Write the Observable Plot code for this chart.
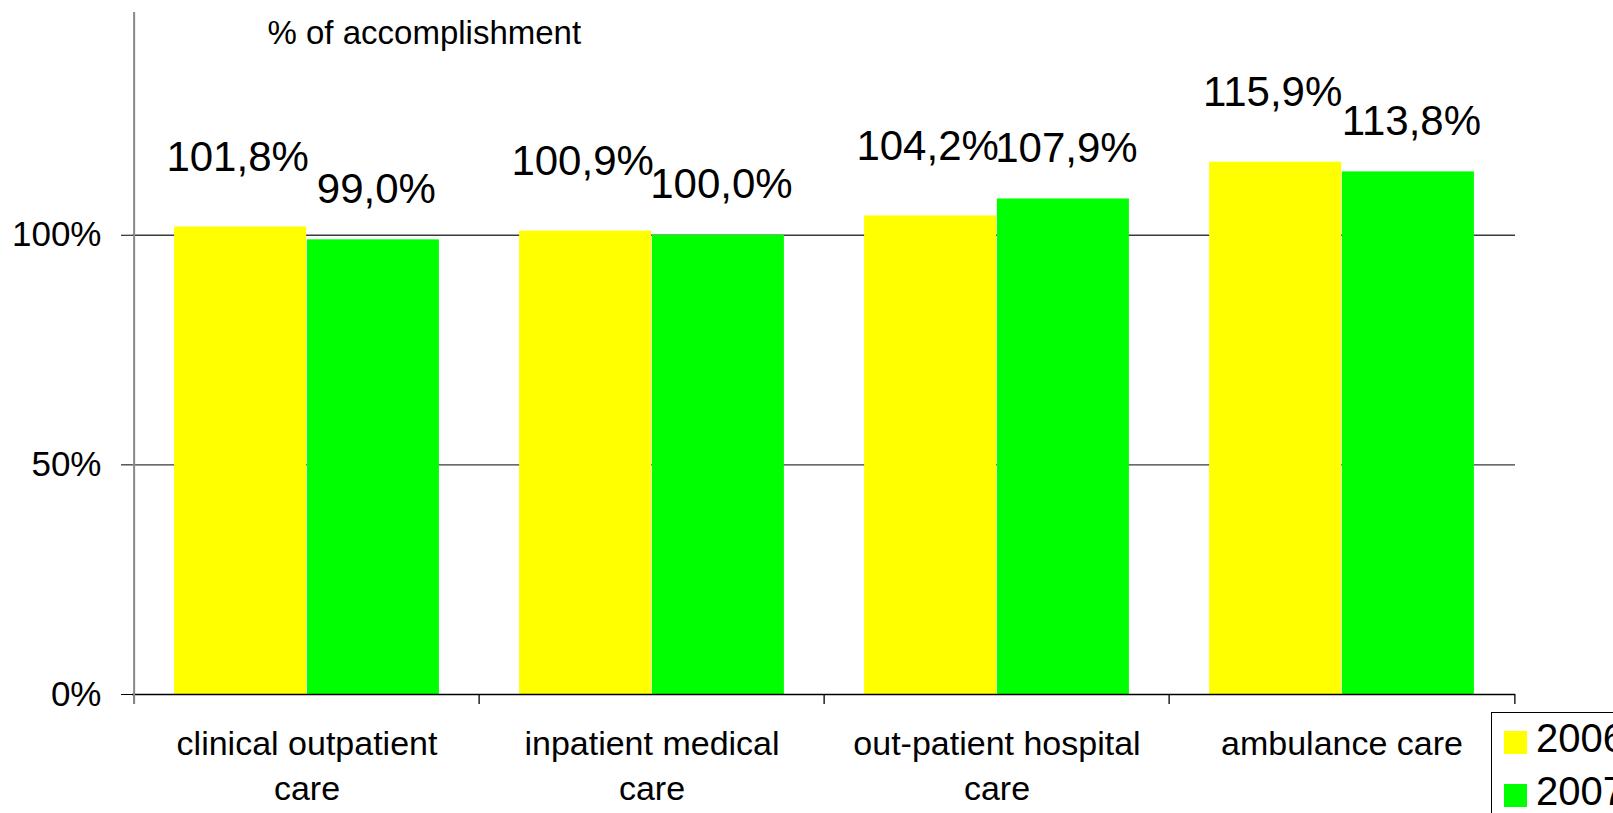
<!DOCTYPE html>
<html>
<head>
<meta charset="utf-8">
<script src="https://cdn.jsdelivr.net/npm/d3@7"></script>
<script src="https://cdn.jsdelivr.net/npm/@observablehq/plot@0.6"></script>
<style>
html, body { margin: 0; padding: 0; background: #fff; }
#wrap { position: relative; width: 1613px; height: 813px; overflow: hidden; font-family: "Liberation Sans", Arial, sans-serif; }
#legend { position: absolute; left: 1491px; top: 712px; width: 200px; height: 200px; border: 1px solid #000; background: #fff; }
.item { position: absolute; left: 12px; height: 40px; display: flex; align-items: center; font-size: 40px; line-height: 1; color: #000; }
.sw { width: 23px; height: 23px; margin-right: 9px; }
.item span.t { position: relative; top: -4px; }
</style>
</head>
<body>
<div id="wrap"><div id="chart"></div><div id="legend"></div></div>
<script>
// ---- data ----
const categories = ["clinical outpatient\ncare", "inpatient medical\ncare", "out-patient hospital\ncare", "ambulance care"];
const years = ["2006", "2007"];
const values2006 = [101.8, 100.9, 104.2, 115.9];
const values2007 = [99.0, 100.0, 107.9, 113.8];
const yTicks = [0, 50, 100];
const yGrid = [50, 100];
const yMax = 148.5;
const colors = ["#ffff00", "#00ff00"];
const title = "% of accomplishment";

// ---- layout ----
const W = 1613, H = 813, ml = 132, mr = 98, mt = 12, mb = 119;
const bw = (W - ml - mr) / categories.length;
const outer = 0.116 * bw;
const barW = (bw - 2 * outer) / 2;
const pxPerUnit = (H - mt - mb) / yMax;
const tickUnits = 10 / pxPerUnit;
const font = '"Liberation Sans", Arial, sans-serif';

const rows = categories.flatMap((c, i) => [
  {category: c, year: years[0], value: values2006[i]},
  {category: c, year: years[1], value: values2007[i]}
]);
const rows06 = rows.filter(d => d.year === years[0]);
const rows07 = rows.filter(d => d.year === years[1]);
const fmt = v => v.toFixed(1).replace(".", ",") + "%";

const chart = Plot.plot({
  width: W, height: H,
  marginLeft: ml, marginRight: mr, marginTop: mt, marginBottom: mb,
  style: {fontFamily: font, background: "white", color: "black", overflow: "visible"},
  x: {type: "band", domain: categories, padding: 0, label: null},
  y: {domain: [0, yMax], label: null},
  color: {domain: years, range: colors},
  marks: [
    Plot.ruleY(yGrid, {stroke: "#3a3a3a", strokeWidth: 1.3}),
    Plot.barY(rows06, {x: "category", y: "value", fill: "year", insetLeft: outer, insetRight: bw - outer - barW}),
    Plot.barY(rows07, {x: "category", y: "value", fill: "year", insetLeft: outer + barW, insetRight: outer}),
    Plot.ruleY([0], {stroke: "black", strokeWidth: 1.3}),
    Plot.ruleX(categories, {x: d => d, dx: -bw / 2, y1: -tickUnits, y2: 0, stroke: "black", strokeWidth: 1.3}),
    Plot.ruleX([categories[categories.length - 1]], {x: d => d, dx: bw / 2, y1: -tickUnits, y2: 0, stroke: "black", strokeWidth: 1.3}),
    Plot.ruleX([categories[0]], {x: d => d, dx: -bw / 2, y1: -tickUnits, y2: yMax, stroke: "#888", strokeWidth: 2}),
    Plot.axisY(yTicks, {anchor: "left", tickSize: 11, tickPadding: 20, tickFormat: d => d + "%", fontSize: 35, label: null}),
    Plot.axisX({anchor: "bottom", tickSize: 0, tickPadding: 28, fontSize: 34, lineHeight: 1.34, label: null}),
    Plot.text(rows06, {x: "category", y: "value", text: d => fmt(d.value), dx: -barW / 2 - 3, dy: -56, lineAnchor: "bottom", fontSize: 42, fill: "black"}),
    Plot.text(rows07, {x: "category", y: "value", text: d => fmt(d.value), dx: barW / 2 + 3, dy: -37, lineAnchor: "bottom", fontSize: 42, fill: "black"}),
    Plot.text([title], {text: d => d, frameAnchor: "top-left", textAnchor: "start", lineAnchor: "bottom", dx: 135, dy: 31, fontSize: 33, fill: "black"})
  ]
});
document.getElementById("chart").appendChild(chart);

// ---- legend ----
const legend = document.getElementById("legend");
years.forEach((y, i) => {
  const item = document.createElement("div");
  item.className = "item";
  item.style.top = (9 + i * 53) + "px";
  const sw = document.createElement("div");
  sw.className = "sw";
  sw.style.background = colors[i];
  const t = document.createElement("span");
  t.className = "t";
  t.textContent = y;
  item.appendChild(sw);
  item.appendChild(t);
  legend.appendChild(item);
});
</script>
</body>
</html>
